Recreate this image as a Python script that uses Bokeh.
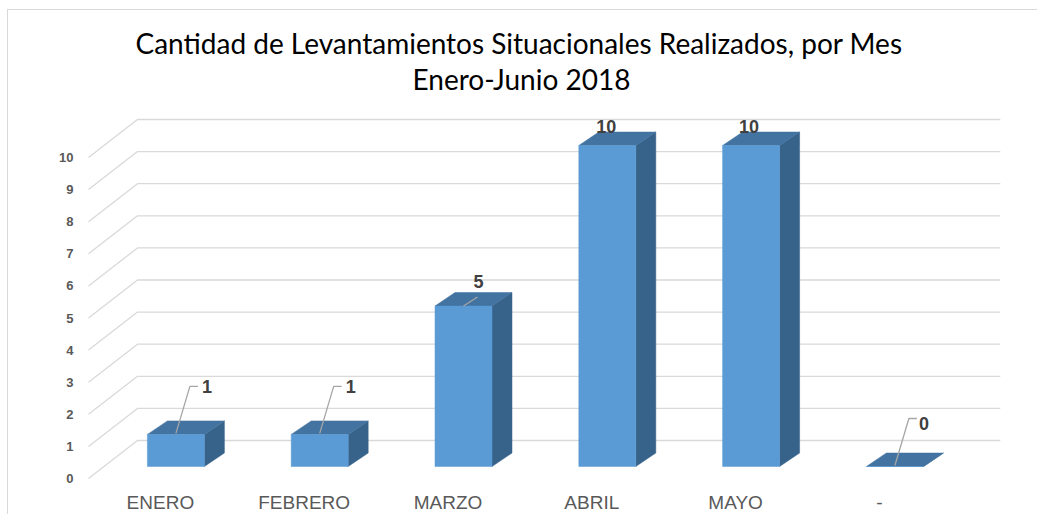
from bokeh.plotting import figure
from bokeh.models import FixedTicker, Range1d, Title
from bokeh.core.properties import value
from bokeh.embed import file_html
from bokeh.resources import INLINE

# ---------------- data ----------------
months = ["ENERO", "FEBRERO", "MARZO", "ABRIL", "MAYO", "-"]
counts = [1, 1, 5, 10, 10, 0]
y_ticks = [0, 1, 2, 3, 4, 5, 6, 7, 8, 9, 10]
title_line1 = "Cantidad de Levantamientos Situacionales Realizados, por Mes"
title_line2 = "Enero-Junio 2018"

# data-label placement: pixel offsets from each bar's front-top centre
label_dx = [31, 31, 15, -1, -2, 29]
label_dy = [48, 48, 25, 19, 19, 43]
leader_kind = ["elbow", "elbow", "short", None, None, "elbow"]

# ---------------- geometry / style ----------------
W, H = 1030, 505
MB_L, MB_R, MB_T, MB_B = 72, 28, 95, 30
frame_w = W - MB_L - MB_R
frame_h = H - MB_T - MB_B
PX_X = 143.8   # pixels per category
PX_Y = 32.1    # pixels per unit
x_start = -0.5 - 8 / PX_X
y_start = -7 / PX_Y

BX, BY = 49 / PX_X, 38 / PX_Y        # back-wall depth
FX, FY = 15.5 / PX_X, 12 / PX_Y      # bar front plane depth
HW = 28.5 / PX_X                     # half bar width
DX, DY = 20 / PX_X, 13.5 / PX_Y      # bar depth

FRONT = "#5B9BD5"
TOP = "#4373A1"
SIDE = "#37628A"
GRID = "#D9D9D9"

p = figure(width=W, height=H, output_backend="svg", toolbar_location=None,
           x_range=Range1d(x_start, x_start + frame_w / PX_X),
           y_range=Range1d(y_start, y_start + frame_h / PX_Y),
           min_border_left=MB_L, min_border_right=MB_R,
           min_border_top=MB_T, min_border_bottom=MB_B)
p.title.visible = False
p.outline_line_color = None
p.xgrid.visible = False
p.ygrid.visible = False
p.background_fill_color = "white"
p.border_fill_color = "white"
p.styles = {"border-top": "1px solid #D9D9D9", "border-left": "1px solid #D9D9D9",
            "margin-top": "9px", "margin-left": "7px"}

for txt, so, off in ((title_line2, 20, 332), (title_line1, -20, 55)):
    p.add_layout(Title(text=txt, align="left", text_font="Lato",
                       text_font_size="28px", text_font_style="normal",
                       text_color="#000000", standoff=so, offset=off), "above")

# ---------------- gridlines (3D back wall) ----------------
n = len(months)
gx, gy = [], []
for v in y_ticks:
    gx.append([-0.5, -0.5 + BX, n - 0.5 + BX])
    gy.append([v, v + BY, v + BY])
p.multi_line(gx, gy, line_color=GRID, line_width=1.3)

# ---------------- bars ----------------
cx = [i + FX for i in range(n)]
left = [c - HW for c in cx]
right = [c + HW for c in cx]
bottom = [FY for _ in counts]
top = [c + FY for c in counts]

side_xs = [[r, r, r + DX, r + DX] for r in right]
side_ys = [[b, t, t + DY, b + DY] for b, t in zip(bottom, top)]
top_xs = [[l, l + DX, r + DX, r] for l, r in zip(left, right)]
top_ys = [[t, t + DY, t + DY, t] for t in top]

p.patches(side_xs, side_ys, fill_color=SIDE, line_color=SIDE, line_width=0.5)
p.patches(top_xs, top_ys, fill_color=TOP, line_color=TOP, line_width=0.5)
p.quad(left=left, right=right, bottom=bottom, top=top,
       fill_color=FRONT, line_color=FRONT, line_width=0.5)

# ---------------- leaders ----------------
lx, ly = [], []
for c, t, kind in zip(cx, top, leader_kind):
    if kind == "elbow":
        pts = [(0, 1), (14, 48), (22, 48)]
    elif kind == "short":
        pts = [(0, 0), (14, 9)]
    else:
        continue
    lx.append([c + dx / PX_X for dx, dy in pts])
    ly.append([t + dy / PX_Y for dx, dy in pts])
p.multi_line(lx, ly, line_color="#A6A6A6", line_width=1.3)

# ---------------- data labels ----------------
p.text(x=cx, y=top, text=[str(c) for c in counts],
       x_offset=label_dx, y_offset=[-d for d in label_dy],
       text_align="center", text_baseline="middle",
       text_font=value("Liberation Sans"), text_font_size="18px",
       text_font_style="bold", text_color="#404040")

# ---------------- axes ----------------
p.yaxis.ticker = FixedTicker(ticks=y_ticks)
p.yaxis.axis_line_color = None
p.yaxis.major_tick_line_color = None
p.yaxis.minor_tick_line_color = None
p.yaxis.major_tick_out = 0
p.yaxis.major_tick_in = 0
p.yaxis.major_label_standoff = 7
p.yaxis.major_label_text_font = "Liberation Sans"
p.yaxis.major_label_text_font_size = "13px"
p.yaxis.major_label_text_font_style = "bold"
p.yaxis.major_label_text_color = "#595959"

p.xaxis.ticker = FixedTicker(ticks=list(range(n)))
p.xaxis.major_label_overrides = {i: m for i, m in enumerate(months)}
p.xaxis.axis_line_color = None
p.xaxis.major_tick_line_color = None
p.xaxis.minor_tick_line_color = None
p.xaxis.major_tick_out = 0
p.xaxis.major_tick_in = 0
p.xaxis.major_label_standoff = 6
p.xaxis.major_label_text_font = "Liberation Sans"
p.xaxis.major_label_text_font_size = "19px"
p.xaxis.major_label_text_color = "#595959"

open("out.html", "w").write(file_html(p, INLINE))
